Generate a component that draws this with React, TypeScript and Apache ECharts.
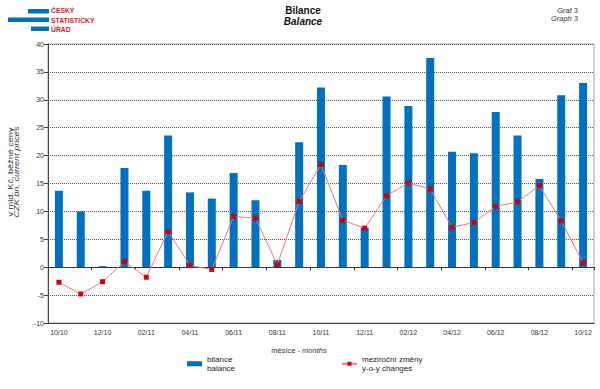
import React, { useEffect, useRef } from "react";
import * as echarts from "echarts";

const categories = [
  "10/10", "11/10", "12/10", "01/11", "02/11", "03/11", "04/11", "05/11", "06/11",
  "07/11", "08/11", "09/11", "10/11", "11/11", "12/11", "01/12", "02/12", "03/12",
  "04/12", "05/12", "06/12", "07/12", "08/12", "09/12", "10/12",
];
const balance = [
  13.7, 10.0, 0.2, 17.8, 13.7, 23.6, 13.4, 12.3, 16.9, 12.0, 1.3, 22.4, 32.2,
  18.3, 7.1, 30.6, 28.9, 37.5, 20.7, 20.4, 27.8, 23.6, 15.8, 30.8, 33.0,
];
const yoyChanges = [
  -2.7, -4.8, -2.6, 1.0, -1.8, 6.4, 0.3, -0.4, 9.1, 8.8, 0.45, 11.8, 18.4,
  8.4, 7.0, 12.8, 15.1, 14.0, 7.15, 8.0, 10.9, 11.7, 14.6, 8.3, 0.8,
];
const yTicks = { min: -10, max: 40, interval: 5 };

const FONT = "'Liberation Sans', Arial, sans-serif";

export default function App() {
  const ref = useRef<HTMLDivElement>(null);
  useEffect(() => {
    document.body.style.margin = "0";
    const chart = echarts.init(ref.current!, null, { renderer: "svg" });
    chart.setOption({
      animation: false,
      textStyle: { fontFamily: FONT },
      title: {
        text: "Bilance",
        subtext: "Balance",
        left: 303,
        textAlign: "center",
        top: 5,
        itemGap: 1,
        padding: 0,
        textStyle: { fontSize: 10, fontWeight: "bold", color: "#111", fontFamily: FONT },
        subtextStyle: { fontSize: 10, fontWeight: "bold", fontStyle: "italic", color: "#111", fontFamily: FONT },
      },
      grid: {
        left: 48, right: 6, top: 44, bottom: 66,
        show: true, borderColor: "#a0a0a0", borderWidth: 1,
      },
      legend: [
        {
          left: 187, top: 351, padding: 0,
          data: [{ name: "bilance", icon: "rect" }],
          itemWidth: 15, itemHeight: 5,
          formatter: () => "bilance\nbalance",
          textStyle: { fontSize: 8, lineHeight: 8.5, color: "#222", padding: [8.5, 0, 0, 0], fontFamily: FONT },
        },
        {
          left: 341, top: 351, padding: 0,
          data: ["meziroční změny"],
          itemWidth: 15, itemHeight: 5,
          formatter: () => "meziroční změny\ny-o-y changes",
          textStyle: { fontSize: 8, lineHeight: 8.5, color: "#222", padding: [8.5, 0, 0, 0], fontFamily: FONT },
        },
      ],
      xAxis: [
        {
          type: "category",
          data: categories,
          position: "bottom",
          boundaryGap: true,
          axisLine: { onZero: true, lineStyle: { color: "#333", width: 1 } },
          axisTick: { show: true, interval: 1, length: 3, lineStyle: { color: "#333" } },
          axisLabel: { show: false },
          splitLine: { show: false },
        },
        {
          type: "category",
          data: categories,
          position: "bottom",
          boundaryGap: true,
          axisLine: { onZero: false, show: true, lineStyle: { color: "#444" } },
          axisTick: { show: false },
          axisLabel: { interval: 1, fontSize: 7, color: "#333", margin: 6, fontFamily: FONT },
          splitLine: { show: false },
        },
      ],
      yAxis: {
        type: "value",
        min: yTicks.min,
        max: yTicks.max,
        interval: yTicks.interval,
        axisLine: { show: true, lineStyle: { color: "#444" } },
        axisTick: { show: true, length: 4, lineStyle: { color: "#444" } },
        axisLabel: { fontSize: 7, color: "#333", margin: 4, fontFamily: FONT },
        splitLine: { lineStyle: { type: "dotted", color: "#555", width: 1 } },
      },
      series: [
        {
          name: "bilance",
          type: "bar",
          xAxisIndex: 0,
          data: balance,
          barWidth: 8,
          itemStyle: { color: "#0070c0" },
          z: 2,
        },
        {
          name: "meziroční změny",
          type: "line",
          xAxisIndex: 0,
          data: yoyChanges,
          symbol: "rect",
          symbolSize: 5,
          lineStyle: { color: "#e87a7a", width: 1 },
          itemStyle: { color: "#d40000" },
          z: 3,
        },
      ],
      graphic: [
        { type: "rect", shape: { x: 28, y: 9, width: 21, height: 4.5 }, style: { fill: "#0071bc" } },
        { type: "rect", shape: { x: 8, y: 17.5, width: 41, height: 4.5 }, style: { fill: "#0071bc" } },
        { type: "rect", shape: { x: 31, y: 26.5, width: 18, height: 4.5 }, style: { fill: "#0071bc" } },
        {
          type: "text", x: 51, y: 10, scaleX: 0.85,
          style: { text: "ČESKÝ", fill: "#d8192a", font: `bold 8px ${FONT}`, verticalAlign: "middle" },
        },
        {
          type: "text", x: 51, y: 20, scaleX: 0.85,
          style: { text: "STATISTICKÝ", fill: "#d8192a", font: `bold 8px ${FONT}`, verticalAlign: "middle" },
        },
        {
          type: "text", x: 51, y: 29.5, scaleX: 0.85,
          style: { text: "ÚŘAD", fill: "#d8192a", font: `bold 8px ${FONT}`, verticalAlign: "middle" },
        },
        {
          type: "text", x: 578, y: 10.5,
          style: { text: "Graf 3", fill: "#333", font: `7.5px ${FONT}`, align: "right", verticalAlign: "middle" },
        },
        {
          type: "text", x: 578, y: 18.5,
          style: { text: "Graph 3", fill: "#333", font: `italic 7.5px ${FONT}`, align: "right", verticalAlign: "middle" },
        },
        {
          type: "text", x: 14, y: 172, rotation: Math.PI / 2, scaleX: 1.3,
          style: {
            text: "{a|v mld. Kč, běžné ceny}\n{b|CZK bn, current prices}",
            align: "center", verticalAlign: "middle",
            rich: {
              a: { fontSize: 7, lineHeight: 6.5, fill: "#333", fontFamily: FONT },
              b: { fontSize: 7, lineHeight: 6.5, fill: "#333", fontStyle: "italic", fontFamily: FONT },
            },
          },
        },
        {
          type: "text", x: 299, y: 350,
          style: {
            text: "{a|měsíce - }{b|months}",
            align: "center", verticalAlign: "middle",
            rich: {
              a: { fontSize: 7.5, fill: "#333", fontFamily: FONT },
              b: { fontSize: 7.5, fill: "#333", fontStyle: "italic", fontFamily: FONT },
            },
          },
        },
      ],
    });
    return () => chart.dispose();
  }, []);
  return <div ref={ref} style={{ width: 600, height: 389 }} />;
}
